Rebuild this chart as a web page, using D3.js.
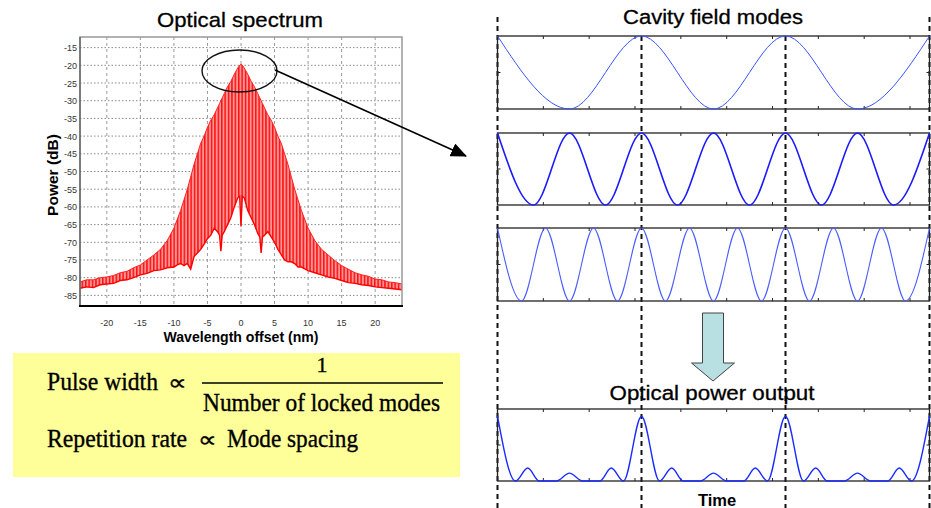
<!DOCTYPE html>
<html>
<head>
<meta charset="utf-8">
<script src="https://cdn.jsdelivr.net/npm/d3@7"></script>
<style>
  body { margin: 0; background: #fff; }
  svg { display: block; }
</style>
</head>
<body>
<div id="chart"></div>
<script>
// ---------- data ----------

// optical spectrum: wavelength offset (nm), upper and lower edge of the mode comb (dB)
var specNm = [-24, -23, -22, -21, -20, -19, -18, -17, -16, -15, -14, -13, -12, -11, -10,
  -9.5, -9, -8.5, -8, -7.5, -7, -6.5, -6, -5.5, -5, -4.5, -4, -3.5, -3.2, -3, -2.8, -2.5,
  -2, -1.5, -1, -0.5, -0.2, 0, 0.2, 0.5, 1, 1.5, 2, 2.5, 2.8, 3, 3.2, 3.5, 4, 4.5, 5,
  5.5, 6, 6.5, 7, 7.5, 8, 8.5, 9, 9.5, 10, 11, 12, 13, 14, 15, 16, 17, 18, 19, 20, 21,
  22, 23, 24];
var specTop = [-81.2, -80.6, -80.6, -80.0, -79.8, -79.4, -78.6, -78.2, -77.2, -76.4, -75.0, -73.6, -72.0, -69.5, -66.0,
  -63.5, -61.0, -58.0, -55.0, -51.5, -48.0, -45.0, -42.0, -40.0, -37.5, -35.5, -34.0, -32.0, -30.8, -30.0, -29.2, -28.0,
  -26.0, -24.5, -22.5, -20.8, -20.0, -19.7, -20.0, -20.8, -22.5, -24.5, -26.0, -28.0, -29.2, -30.0, -30.8, -32.0, -34.0, -35.5, -37.5,
  -40.0, -42.0, -45.0, -48.0, -51.5, -55.0, -58.0, -61.0, -63.5, -66.0, -69.5, -72.0, -73.6, -75.2, -76.6, -77.6, -78.6, -79.2, -79.6, -80.4, -80.6,
  -81.2, -81.4, -81.8];
var specBottom = [-83.0, -82.6, -82.8, -82.0, -81.8, -81.6, -80.8, -80.6, -80.0, -79.2, -78.8, -78.0, -77.8, -77.2, -77.0,
  -76.4, -76.0, -76.6, -76.0, -77.6, -74.0, -73.0, -72.0, -70.5, -69.0, -68.0, -66.0, -67.0, -68.0, -72.5, -68.0, -67.0,
  -65.0, -63.0, -60.0, -57.5, -57.0, -65.5, -57.0, -57.5, -61.0, -63.0, -65.0, -67.5, -68.5, -73.0, -68.5, -68.0, -67.0, -68.5, -70.0,
  -72.0, -73.5, -75.0, -75.5, -75.5, -76.0, -77.0, -77.0, -77.5, -78.0, -78.6, -79.2, -79.8, -80.2, -80.8, -81.4, -81.6, -82.0, -82.2, -82.6, -82.8,
  -83.0, -83.2, -83.4];
var specTicksX = [-20, -15, -10, -5, 0, 5, 10, 15, 20];
var specTicksY = [-15, -20, -25, -30, -35, -40, -45, -50, -55, -60, -65, -70, -75, -80, -85];

// cavity field modes: [time in round-trip periods, field] at the crests and troughs
var mode1 = [[0, 1], [0.5, -1], [1, 1], [1.5, -1], [2, 1], [2.5, -1], [3, 1]];
var mode2 = [[0, 1], [0.25, -1], [0.5, 1], [0.75, -1], [1, 1], [1.25, -1], [1.5, 1],
  [1.75, -1], [2, 1], [2.25, -1], [2.5, 1], [2.75, -1], [3, 1]];
var mode3 = [[0, 1], [1/6, -1], [2/6, 1], [3/6, -1], [4/6, 1], [5/6, -1], [1, 1],
  [7/6, -1], [8/6, 1], [9/6, -1], [10/6, 1], [11/6, -1], [2, 1],
  [13/6, -1], [14/6, 1], [15/6, -1], [16/6, 1], [17/6, -1], [3, 1]];

// optical power output: [time in periods, power]
var powerOut = [[0, 0.9], [0.125, 0], [0.21, 0.18], [0.29, 0], [0.41, 0], [0.5, 0.11], [0.59, 0], [0.71, 0], [0.79, 0.18], [0.875, 0],
  [1, 0.9], [1.125, 0], [1.21, 0.18], [1.29, 0], [1.41, 0], [1.5, 0.11], [1.59, 0], [1.71, 0], [1.79, 0.18], [1.875, 0],
  [2, 0.9], [2.125, 0], [2.21, 0.18], [2.29, 0], [2.41, 0], [2.5, 0.11], [2.59, 0], [2.71, 0], [2.79, 0.18], [2.875, 0],
  [3, 0.9]];

var timeTicks = [1, 2, 3, 4, 5, 6, 7, 8, 9];   // axis ticks in radians (3 periods = 3*pi)
var periodMarks = [0, 1, 2, 3];

// ---------- svg ----------
var W = 931, H = 508;
var svg = d3.select("#chart").append("svg")
    .attr("width", W)
    .attr("height", H)
    .style("font-family", "'Liberation Sans', Arial, sans-serif");

// comb texture for the spectrum
var defs = svg.append("defs");
var pat = defs.append("pattern")
    .attr("id", "comb")
    .attr("patternUnits", "userSpaceOnUse")
    .attr("width", 3.4)
    .attr("height", 10);
pat.append("rect").attr("width", 3.4).attr("height", 10).attr("fill", "#ff9494");
pat.append("rect").attr("x", 0).attr("width", 1.5).attr("height", 10).attr("fill", "#ff1010");

defs.append("marker")
    .attr("id", "head")
    .attr("markerUnits", "userSpaceOnUse")
    .attr("markerWidth", 16)
    .attr("markerHeight", 14)
    .attr("refX", 15)
    .attr("refY", 7)
    .attr("orient", "auto")
  .append("path")
    .attr("d", "M0,0 L16,7 L0,14 Z")
    .attr("fill", "#000");

// ================= left: optical spectrum =================
var sx = d3.scaleLinear().domain([-24, 24]).range([80, 402]);
var sy = d3.scaleLinear().domain([-88, -12]).range([306, 37]);

var left = svg.append("g");

// grid
left.selectAll(".hgrid").data(specTicksY).enter().append("line")
    .attr("x1", sx.range()[0]).attr("x2", sx.range()[1])
    .attr("y1", function(d) { return sy(d); })
    .attr("y2", function(d) { return sy(d); })
    .attr("stroke", "#8a8a8a")
    .attr("stroke-width", 1)
    .attr("stroke-dasharray", "1.5,2");
left.selectAll(".vgrid").data(specTicksX).enter().append("line")
    .attr("x1", function(d) { return sx(d); })
    .attr("x2", function(d) { return sx(d); })
    .attr("y1", sy.range()[1]).attr("y2", sy.range()[0])
    .attr("stroke", "#9a9a9a")
    .attr("stroke-width", 1)
    .attr("stroke-dasharray", "3,3");

// spectrum
var specData = specNm.map(function(x, i) { return {x: x, top: specTop[i], bot: specBottom[i]}; });

var area = d3.area()
    .x(function(d) { return sx(d.x); })
    .y0(function(d) { return sy(d.bot); })
    .y1(function(d) { return sy(d.top); })
    .curve(d3.curveLinear);

left.append("path")
    .attr("d", area(specData))
    .attr("fill", "url(#comb)");

left.append("path")
    .attr("d", d3.line().x(function(d) { return sx(d.x); }).y(function(d) { return sy(d.top); })(specData))
    .attr("fill", "none").attr("stroke", "#ff2020").attr("stroke-width", 1);
left.append("path")
    .attr("d", d3.line().x(function(d) { return sx(d.x); }).y(function(d) { return sy(d.bot); })(specData))
    .attr("fill", "none").attr("stroke", "#ff0000").attr("stroke-width", 1.4);

// frame
left.append("rect")
    .attr("x", sx.range()[0]).attr("y", sy.range()[1])
    .attr("width", sx.range()[1] - sx.range()[0])
    .attr("height", sy.range()[0] - sy.range()[1])
    .attr("fill", "none").attr("stroke", "#999").attr("stroke-width", 1.5);
left.append("line")
    .attr("x1", sx.range()[0]).attr("x2", sx.range()[0])
    .attr("y1", sy.range()[1]).attr("y2", sy.range()[0])
    .attr("stroke", "#444").attr("stroke-width", 1);
left.append("line")
    .attr("x1", sx.range()[0] - 1).attr("x2", sx.range()[1] + 1)
    .attr("y1", sy.range()[0]).attr("y2", sy.range()[0])
    .attr("stroke", "#000").attr("stroke-width", 2.2);

// tick labels
left.selectAll(".ylab").data(specTicksY).enter().append("text")
    .attr("x", sx.range()[0] - 3)
    .attr("y", function(d) { return sy(d) + 3.5; })
    .attr("text-anchor", "end")
    .style("font-family", "'Liberation Sans Narrow', 'Liberation Sans', Arial, sans-serif")
    .style("font-size", "9px")
    .attr("fill", "#333")
    .text(function(d) { return d; });
left.selectAll(".xlab").data(specTicksX).enter().append("text")
    .attr("x", function(d) { return sx(d); })
    .attr("y", 326)
    .attr("text-anchor", "middle")
    .style("font-family", "'Liberation Sans Narrow', 'Liberation Sans', Arial, sans-serif")
    .style("font-size", "9px")
    .attr("fill", "#333")
    .text(function(d) { return d; });

left.append("text")
    .attr("x", 240).attr("y", 27)
    .attr("text-anchor", "middle")
    .style("font-size", "21px")
    .attr("stroke", "#000").attr("stroke-width", 0.3)
    .attr("textLength", 166).attr("lengthAdjust", "spacingAndGlyphs")
    .text("Optical spectrum");
left.append("text")
    .attr("transform", "translate(58,175) rotate(-90)")
    .attr("text-anchor", "middle")
    .style("font-size", "15.5px").style("font-weight", "bold")
    .text("Power (dB)");
left.append("text")
    .attr("x", 241).attr("y", 342)
    .attr("text-anchor", "middle")
    .style("font-size", "14px").style("font-weight", "bold")
    .attr("textLength", 155).attr("lengthAdjust", "spacingAndGlyphs")
    .text("Wavelength offset (nm)");

// zoom ellipse and arrow
left.append("ellipse")
    .attr("cx", 239.5).attr("cy", 71).attr("rx", 37.5).attr("ry", 21)
    .attr("fill", "none").attr("stroke", "#111").attr("stroke-width", 1.4);
left.append("line")
    .attr("x1", 275).attr("y1", 70).attr("x2", 466).attr("y2", 156)
    .attr("stroke", "#000").attr("stroke-width", 1.6)
    .attr("marker-end", "url(#head)");

// formula box
var box = svg.append("g")
    .style("font-family", "'Liberation Serif', 'Times New Roman', serif")
    .attr("stroke", "#000").attr("stroke-width", 0.35);
box.append("rect")
    .attr("x", 13).attr("y", 353).attr("width", 447).attr("height", 124)
    .attr("fill", "#ffff99").attr("stroke", "none");
box.append("text").attr("x", 47).attr("y", 390).style("font-size", "24.5px")
    .attr("textLength", 111).attr("lengthAdjust", "spacingAndGlyphs").text("Pulse width");
box.append("text").attr("x", 168).attr("y", 390).style("font-size", "22px")
    .attr("textLength", 19).attr("lengthAdjust", "spacingAndGlyphs").text("\u221D");
box.append("text").attr("x", 322).attr("y", 372).attr("text-anchor", "middle")
    .style("font-size", "22px").text("1");
box.append("line").attr("x1", 202).attr("x2", 443).attr("y1", 383).attr("y2", 383)
    .attr("stroke", "#000").attr("stroke-width", 1.5);
box.append("text").attr("x", 203).attr("y", 411).style("font-size", "24.5px")
    .attr("textLength", 237).attr("lengthAdjust", "spacingAndGlyphs").text("Number of locked modes");
box.append("text").attr("x", 47).attr("y", 447).style("font-size", "24.5px")
    .attr("textLength", 140).attr("lengthAdjust", "spacingAndGlyphs").text("Repetition rate");
box.append("text").attr("x", 198).attr("y", 447).style("font-size", "22px")
    .attr("textLength", 19).attr("lengthAdjust", "spacingAndGlyphs").text("\u221D");
box.append("text").attr("x", 227).attr("y", 447).style("font-size", "24.5px")
    .attr("textLength", 131).attr("lengthAdjust", "spacingAndGlyphs").text("Mode spacing");

// ================= right: cavity modes =================
var tx = d3.scaleLinear().domain([0, 3]).range([497.5, 929.5]);   // periods

var panels = [
  {data: mode1, top: 36, bottom: 109, dom: [-1, 1], color: "#3a55ff", width: 1},
  {data: mode2, top: 133, bottom: 205, dom: [-1, 1], color: "#1a1aff", width: 1.6},
  {data: mode3, top: 228, bottom: 301, dom: [-1, 1], color: "#4a5cff", width: 1.1},
  {data: powerOut, top: 409, bottom: 481, dom: [0, 1], color: "#1a2cff", width: 1.4}
];

var right = svg.append("g");

// period markers
right.selectAll(".pmark").data(periodMarks).enter().append("line")
    .attr("x1", function(d) { return tx(d); })
    .attr("x2", function(d) { return tx(d); })
    .attr("y1", function(d) { return (d === 0 || d === 3) ? 17 : 36; })
    .attr("y2", 508)
    .attr("stroke", "#111")
    .attr("stroke-width", 2)
    .attr("stroke-dasharray", "5,4");

panels.forEach(function(p) {
  var py = d3.scaleLinear().domain(p.dom).range([p.bottom, p.top]);
  var g = right.append("g");

  g.append("rect")
      .attr("x", tx.range()[0]).attr("y", p.top)
      .attr("width", tx.range()[1] - tx.range()[0])
      .attr("height", p.bottom - p.top)
      .attr("fill", "none").attr("stroke", "#222").attr("stroke-width", 1.3);

  // inward ticks
  var ticks = timeTicks.map(function(t) { return t / Math.PI; });
  g.selectAll(".tt").data(ticks).enter().append("line")
      .attr("x1", function(d) { return tx(d); }).attr("x2", function(d) { return tx(d); })
      .attr("y1", p.top).attr("y2", p.top + 3)
      .attr("stroke", "#222");
  g.selectAll(".tb").data(ticks).enter().append("line")
      .attr("x1", function(d) { return tx(d); }).attr("x2", function(d) { return tx(d); })
      .attr("y1", p.bottom).attr("y2", p.bottom - 3)
      .attr("stroke", "#222");
  var mid = (p.dom[0] + p.dom[1]) / 2;
  g.append("line").attr("x1", tx.range()[0]).attr("x2", tx.range()[0] + 3)
      .attr("y1", py(mid)).attr("y2", py(mid)).attr("stroke", "#222");
  g.append("line").attr("x1", tx.range()[1]).attr("x2", tx.range()[1] - 3)
      .attr("y1", py(mid)).attr("y2", py(mid)).attr("stroke", "#222");

  var line = d3.line()
      .x(function(d) { return tx(d[0]); })
      .y(function(d) { return py(d[1]); })
      .curve(d3.curveMonotoneX);
  g.append("path")
      .attr("d", line(p.data))
      .attr("fill", "none")
      .attr("stroke", p.color)
      .attr("stroke-width", p.width);
});

// down arrow
var ax = tx(1.5) - 0.5;
right.append("path")
    .attr("d", "M" + (ax - 10.5) + ",313 H" + (ax + 10.5) + " V363 H" + (ax + 21.5) +
               " L" + ax + ",381 L" + (ax - 21.5) + ",363 H" + (ax - 10.5) + " Z")
    .attr("fill", "#b8dfe1").attr("stroke", "#444").attr("stroke-width", 1);

right.append("text")
    .attr("x", 713).attr("y", 24)
    .attr("text-anchor", "middle")
    .style("font-size", "20px")
    .attr("stroke", "#000").attr("stroke-width", 0.3)
    .attr("textLength", 180).attr("lengthAdjust", "spacingAndGlyphs")
    .text("Cavity field modes");
right.append("text")
    .attr("x", 712).attr("y", 400)
    .attr("text-anchor", "middle")
    .style("font-size", "20px")
    .attr("stroke", "#000").attr("stroke-width", 0.3)
    .attr("textLength", 205).attr("lengthAdjust", "spacingAndGlyphs")
    .text("Optical power output");
right.append("text")
    .attr("x", 717).attr("y", 506)
    .attr("text-anchor", "middle")
    .style("font-size", "16.5px").style("font-weight", "bold")
    .text("Time");
</script>
</body>
</html>
